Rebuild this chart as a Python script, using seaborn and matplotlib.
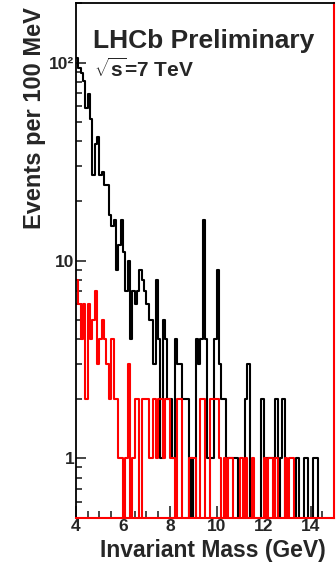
import numpy as np
import pandas as pd
import matplotlib
matplotlib.use("Agg")
import matplotlib.pyplot as plt
import seaborn as sns
from matplotlib.ticker import FixedLocator, FixedFormatter, LogLocator, NullFormatter, MultipleLocator

# ---- binning (100 MeV bins from 4 to 15 GeV) ----
bin_low = 4.0
bin_high = 15.0
n_bins = 110

# ---- data: events per 100 MeV bin ----
black_counts = [
    106, 94, 89, 81, 59, 69, 52, 27, 39, 42,   # 4.0-4.9
    27, 28, 24, 24, 17, 15, 16, 9, 12, 16,     # 5.0-5.9
    11, 7, 10, 4, 7, 6, 7, 9, 8, 7,            # 6.0-6.9
    6, 5, 5, 3, 8, 4, 1, 5, 4, 2,              # 7.0-7.9
    2, 1, 4, 3, 3, 2, 2, 2, 0, 1,              # 8.0-8.9
    0, 4, 3, 4, 16, 4, 1, 1, 1, 4,             # 9.0-9.9
    9, 3, 2, 2, 1, 1, 1, 1, 1, 0,              # 10.0-10.9
    0, 0, 2, 3, 0, 0, 0, 0, 0, 2,              # 11.0-11.9
    1, 1, 1, 1, 1, 2, 0, 1, 2, 0,              # 12.0-12.9
    0, 0, 0, 0, 1, 0, 0, 1, 1, 0,              # 13.0-13.9
    0, 1, 1, 0, 0, 0, 0, 0, 0, 0,              # 14.0-14.9
]
red_counts = [
    8, 6, 4, 6, 2, 6, 4, 5, 7, 3,              # 4.0-4.9
    4, 5, 4, 3, 2, 4, 2, 2, 1, 1,              # 5.0-5.9
    0, 1, 3, 0, 1, 2, 2, 0, 2, 2,              # 6.0-6.9
    2, 1, 1, 2, 1, 2, 2, 1, 2, 2,              # 7.0-7.9
    1, 1, 0, 2, 2, 0, 0, 0, 1, 1,              # 8.0-8.9
    1, 0, 0, 2, 2, 0, 0, 2, 2, 2,              # 9.0-9.9
    2, 1, 0, 1, 0, 1, 1, 0, 0, 0,              # 10.0-10.9
    1, 0, 1, 0, 0, 1, 0, 0, 0, 0,              # 11.0-11.9
    1, 0, 1, 1, 0, 1, 0, 0, 0, 1,              # 12.0-12.9
    0, 1, 1, 0, 0, 0, 0, 0, 0, 0,              # 13.0-13.9
    0, 0, 0, 0, 0, 0, 0, 0, 0, 0,              # 14.0-14.9
]

xtick_values = [4, 6, 8, 10, 12, 14]
ytick_values = [1, 10, 100]
ytick_labels = ["1", "10", "10\u00b2"]

bin_width = (bin_high - bin_low) / n_bins
centers = bin_low + bin_width * (np.arange(n_bins) + 0.5)

df = pd.DataFrame({
    "mass": np.concatenate([centers, centers]),
    "events": black_counts + red_counts,
    "sample": ["black"] * n_bins + ["red"] * n_bins,
})

sns.set_style("ticks")
plt.rcParams["font.family"] = ["Liberation Sans", "DejaVu Sans"]
plt.rcParams["font.weight"] = "bold"
plt.rcParams["mathtext.fontset"] = "custom"
plt.rcParams["mathtext.rm"] = "Liberation Sans:bold"
plt.rcParams["mathtext.it"] = "Liberation Sans:bold"
plt.rcParams["mathtext.bf"] = "Liberation Sans:bold"

fig = plt.figure(figsize=(3.36, 5.64), dpi=100)
ax = fig.add_axes([76 / 336, 1 - 518 / 564, (334 - 76) / 336, (518 - 3) / 564])

for name, color in [("black", "black"), ("red", "red")]:
    sub = df[df["sample"] == name]
    sns.histplot(data=sub, x="mass", weights="events", bins=n_bins,
                 binrange=(bin_low, bin_high),
                 element="step", fill=False, color=color, linewidth=1.5, ax=ax)

ax.set_yscale("log")
ax.set_xlim(bin_low, bin_high)
ax.set_ylim(0.5, 200)

ax.yaxis.set_major_locator(FixedLocator(ytick_values))
ax.yaxis.set_major_formatter(FixedFormatter(ytick_labels))
ax.yaxis.set_minor_locator(LogLocator(base=10, subs=np.arange(2, 10)))
ax.yaxis.set_minor_formatter(NullFormatter())
ax.xaxis.set_major_locator(FixedLocator(xtick_values))
ax.xaxis.set_minor_locator(MultipleLocator(0.5))

ax.tick_params(axis="both", which="both", direction="in", top=False, right=False,
               labelsize=12.5, width=1.2)
ax.tick_params(axis="y", which="major", length=7, pad=1)
ax.tick_params(axis="y", which="minor", length=4)
ax.tick_params(axis="x", which="major", length=9, pad=1)
ax.tick_params(axis="x", which="minor", length=5)
for lab in ax.get_xticklabels() + ax.get_yticklabels():
    lab.set_fontweight("bold")

for side in ["left", "top"]:
    ax.spines[side].set_color("black")
    ax.spines[side].set_linewidth(1.3)
for side in ["bottom", "right"]:
    ax.spines[side].set_color("red")
    ax.spines[side].set_linewidth(1.5)

ax.set_xlabel("Invariant Mass (GeV)", fontsize=16.5, fontweight="bold", loc="right")
ax.xaxis.set_label_coords(0.968, -0.041)
ax.set_ylabel("Events per 100 MeV", fontsize=17, fontweight="bold", loc="top")
ax.yaxis.set_label_coords(-0.118, 0.992)

ax.text(0.066, 0.913, "LHCb Preliminary", transform=ax.transAxes, fontsize=19,
        fontweight="bold", ha="left", va="baseline")
ax.text(0.07, 0.856, r"$\sqrt{s}$=7 TeV", transform=ax.transAxes, fontsize=15,
        fontweight="bold", ha="left", va="baseline")

fig.savefig("out.png", dpi=100)
